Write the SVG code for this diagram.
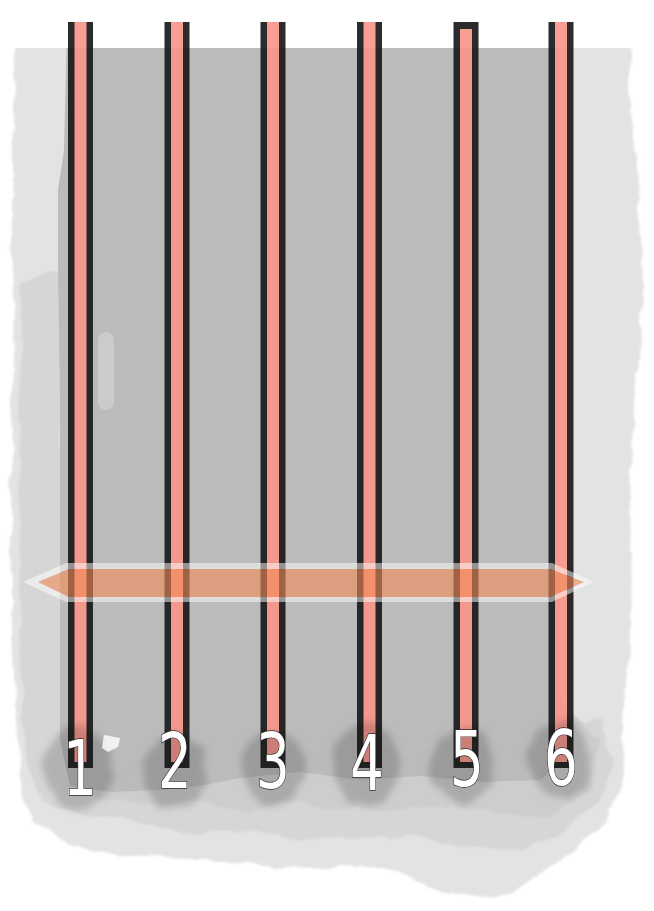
<svg xmlns="http://www.w3.org/2000/svg" width="654" height="911" viewBox="0 0 654 911">
<style>
.edge{fill:#1a1a1a}
.core{fill:#f8968a}
.strand{opacity:0.92}
.num{font-family:"DejaVu Sans","Liberation Sans",sans-serif;font-size:76px;fill:#ffffff;stroke:#2a2a2a;stroke-width:1.4px;paint-order:stroke;text-anchor:middle}
.blob{fill:#000;opacity:0.17}
</style>
<defs>
<filter id="rough" x="-10%" y="-10%" width="120%" height="120%">
<feTurbulence type="fractalNoise" baseFrequency="0.03" numOctaves="5" seed="7" result="n"/>
<feDisplacementMap in="SourceGraphic" in2="n" scale="11" xChannelSelector="R" yChannelSelector="G" result="d"/>
<feGaussianBlur in="d" stdDeviation="0.8"/>
</filter>
<filter id="soft" x="-30%" y="-30%" width="160%" height="160%">
<feTurbulence type="fractalNoise" baseFrequency="0.05" numOctaves="3" seed="2" result="n"/>
<feDisplacementMap in="SourceGraphic" in2="n" scale="12" xChannelSelector="R" yChannelSelector="G" result="d"/>
<feGaussianBlur in="d" stdDeviation="3.5"/>
</filter>
<clipPath id="topcut"><rect x="0" y="48" width="654" height="863"/></clipPath>
</defs>

<g id="background" clip-path="url(#topcut)">
<g filter="url(#rough)">
<path fill="#e3e3e3" d="M17,30 L628,30 L632,120 L640,220 L644,300 L634,400 L630,500 L632,600 L624,700 L622,780 L604,825 L565,857 L528,882 L494,898 L444,890 L380,866 L330,868 L262,866 L200,858 L130,857 L70,846 L32,822 L20,780 L16,700 L12,600 L10,500 L12,400 L14,300 L12,200 L15,120 Z"/>
<path fill="#d6d6d6" d="M22,280 L62,270 L62,700 L120,720 L300,730 L480,740 L600,720 L612,760 L600,800 L560,835 L520,850 L470,850 L420,838 L360,836 L300,840 L250,830 L200,835 L140,822 L80,812 L40,800 L25,760 L20,600 L18,450 Z"/>
<path fill="#cdcdcd" d="M60,700 L560,700 L600,740 L590,790 L550,815 L500,815 L450,805 L400,812 L340,808 L300,800 L250,812 L200,800 L150,805 L100,800 L70,780 Z"/>
</g>
<path fill="#bbbbbb" d="M67,30 L560,30 L560,720 L564,760 L540,780 L480,782 L420,776 L360,780 L300,772 L240,778 L200,786 L160,790 L110,792 L70,786 L60,740 L60,400 L58,260 L58,190 L64,150 Z"/>
<rect x="98" y="332" width="16" height="78" rx="8" fill="#cbcbcb"/>
</g>

<g id="strand-1" class="strand"><rect class="edge" x="68" y="22" width="25" height="746"/><rect class="core" x="74.5" y="22" width="12" height="740"/></g>
<g id="strand-2" class="strand"><rect class="edge" x="164.5" y="22" width="25" height="746"/><rect class="core" x="171" y="22" width="12" height="740"/></g>
<g id="strand-3" class="strand"><rect class="edge" x="260.5" y="22" width="25" height="746"/><rect class="core" x="267" y="22" width="12" height="740"/></g>
<g id="strand-4" class="strand"><rect class="edge" x="357" y="22" width="25" height="746"/><rect class="core" x="363.5" y="22" width="12" height="740"/></g>
<g id="strand-5" class="strand"><rect class="edge" x="453.5" y="22" width="25" height="746"/><rect class="core" x="460" y="29" width="12" height="733"/></g>
<g id="strand-6" class="strand"><rect class="edge" x="548.5" y="22" width="25" height="746"/><rect class="core" x="555" y="22" width="12" height="740"/></g>

<g id="shadows" filter="url(#soft)">
<ellipse class="blob" cx="78" cy="768" rx="34" ry="42"/>
<ellipse class="blob" cx="175" cy="772" rx="32" ry="38"/>
<ellipse class="blob" cx="273" cy="768" rx="32" ry="38"/>
<ellipse class="blob" cx="366" cy="765" rx="34" ry="42"/>
<ellipse class="blob" cx="462" cy="765" rx="32" ry="38"/>
<ellipse class="blob" cx="560" cy="760" rx="32" ry="38"/>
</g>
<path d="M104,735 L120,738 L118,747 L108,752 L102,748 Z" fill="#ffffff" opacity="0.8"/>

<g id="connectors">
<path fill="#ffffff" fill-opacity="0.5" fill-rule="evenodd" d="M23,582 L66,563 L552,563 L594,582 L552,602 L66,602 Z M38,582 L69,569 L550,569 L584,582 L550,597 L69,597 Z"/>
<path fill="rgb(241,138,86)" fill-opacity="0.6" d="M38,582 L69,569 L550,569 L584,582 L550,597 L69,597 Z"/>
</g>

<g id="label-1"><text class="num" transform="translate(80,795) scale(0.7,1)">1</text></g>
<g id="label-2"><text class="num" transform="translate(175,788) scale(0.7,1)">2</text></g>
<g id="label-3"><text class="num" transform="translate(273,788) scale(0.7,1)">3</text></g>
<g id="label-4"><text class="num" transform="translate(367,790) scale(0.7,1)">4</text></g>
<g id="label-5"><text class="num" transform="translate(467,786) scale(0.7,1)">5</text></g>
<g id="label-6"><text class="num" transform="translate(561,785) scale(0.7,1)">6</text></g>
</svg>
